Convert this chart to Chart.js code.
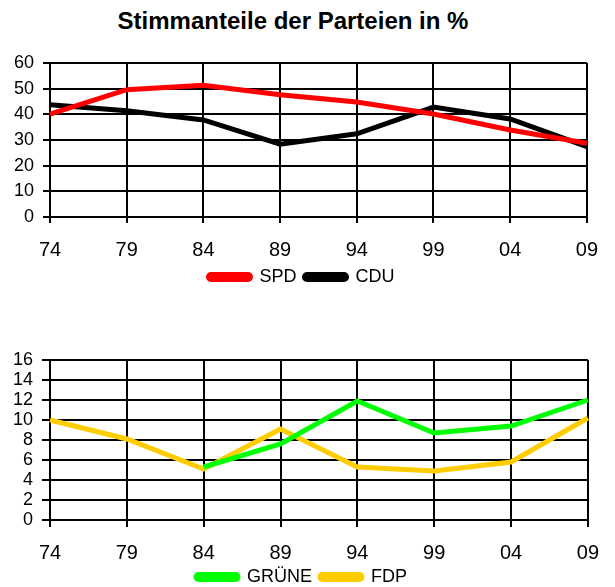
<!DOCTYPE html>
<html>
<head>
<meta charset="utf-8">
<script src="https://cdn.jsdelivr.net/npm/chart.js@4"></script>
<style>
  body { margin: 0; background: #fff; width: 615px; height: 587px; position: relative; overflow: hidden; font-family: "Liberation Sans", Arial, sans-serif; }
  #title { position: absolute; left: 0; width: 586px; top: 9px; line-height: 24px; text-align: center; font-weight: bold; font-size: 24px; color: #000; }
  #oben { position: absolute; left: 0; top: 40px; }
  #unten { position: absolute; left: 0; top: 330px; }
</style>
</head>
<body>
<div id="title">Stimmanteile der Parteien in %</div>
<canvas id="oben" width="615" height="256"></canvas>
<canvas id="unten" width="615" height="266"></canvas>
<script>
  // Jahre (Europawahlen)
  const jahre = ['74', '79', '84', '89', '94', '99', '04', '09'];

  // grosse Parteien
  const spd = [40.1, 49.6, 51.3, 47.6, 44.8, 40.1, 33.9, 28.7];
  const cdu = [43.7, 41.4, 37.8, 28.4, 32.4, 42.8, 38.2, 27.4];

  // kleine Parteien
  const gruene = [null, null, 5.3, 7.6, 11.9, 8.7, 9.4, 12.0];
  const fdp = [10.0, 8.1, 5.1, 9.1, 5.3, 4.9, 5.8, 10.2];

  const fam = '"Liberation Sans", Arial, sans-serif';

  function linie(name, werte, farbe){
    return {
      label: name,
      data: werte,
      borderColor: farbe,
      backgroundColor: farbe,
      borderWidth: 5,
      pointRadius: 0,
      tension: 0,
      fill: false,
      spanGaps: false
    };
  }

  function optionen(max, schritt, oben, xPad, yTick, xHoehe){
    return {
      responsive: false,
      animation: false,
      layout: { padding: { left: 10, right: 22, top: oben, bottom: 0 } },
      plugins: {
        tooltip: { enabled: false },
        legend: {
          position: 'bottom',
          labels: {
            color: '#000',
            font: { family: fam, size: 18, lineHeight: 1 },
            boxWidth: 42,
            boxHeight: 5,
            padding: 8,
            useBorderRadius: true,
            borderRadius: 2.5
          }
        }
      },
      scales: {
        x: {
          offset: false,
          afterFit: (s) => { s.height = xHoehe; },
          grid: { color: '#000', lineWidth: 2, tickLength: yTick - 1, tickColor: '#000' },
          border: { color: '#000', width: 2 },
          ticks: { color: '#000', font: { family: fam, size: 20, lineHeight: 1 }, padding: xPad, maxRotation: 0 }
        },
        y: {
          min: 0,
          max: max,
          afterFit: (s) => { s.width = 40; },
          grid: { color: '#000', lineWidth: 2, tickLength: yTick, tickColor: '#000' },
          border: { color: '#000', width: 2 },
          ticks: { color: '#000', font: { family: fam, size: 18 }, stepSize: schritt, autoSkip: false, padding: 9 }
        }
      }
    };
  }

  //==============================================================
  new Chart(document.getElementById('oben'), {
    type: 'line',
    data: {
      labels: jahre,
      datasets: [linie('SPD', spd, '#ff0000'), linie('CDU', cdu, '#000000')]
    },
    options: optionen(60, 10, 23, 17, 7, 43)
  });

  //==============================================================
  new Chart(document.getElementById('unten'), {
    type: 'line',
    data: {
      labels: jahre,
      datasets: [linie('GRÜNE', gruene, '#00ff00'), linie('FDP', fdp, '#ffcc00')]
    },
    options: optionen(16, 2, 30, 16, 8, 40)
  });
</script>
</body>
</html>
